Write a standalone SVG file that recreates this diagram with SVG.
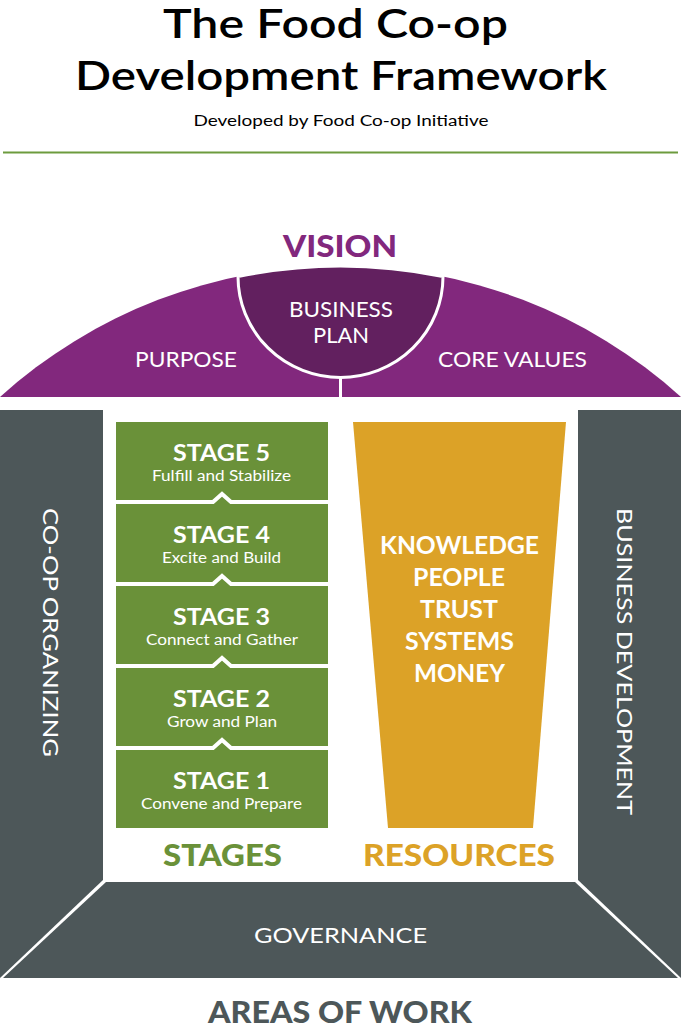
<svg xmlns="http://www.w3.org/2000/svg" width="681" height="1030" viewBox="0 0 681 1030">
<style>
text{font-family:Lato,"Open Sans","Liberation Sans",sans-serif;text-anchor:middle}
.t{fill:#000;font-size:40px;font-weight:600}
.sub{fill:#000;font-size:15.5px}
.w{fill:#fff}
.lbl{font-size:20.5px}
.st{font-size:22px;font-weight:700;fill:#fff}
.ss{font-size:14.5px;fill:#fff}
.res{font-size:24px;font-weight:700;fill:#fff}
.head{font-size:31px;font-weight:900}
.gray{fill:#4d5759}
</style>
<rect width="681" height="1030" fill="#fff"/>
<g id="title">
<text class="t" x="335.5" y="38" textLength="345" lengthAdjust="spacingAndGlyphs">The Food Co-op</text>
<text class="t" x="341" y="90" textLength="532" lengthAdjust="spacingAndGlyphs">Development Framework</text>
<text class="sub" x="341" y="126" textLength="295" lengthAdjust="spacingAndGlyphs">Developed by Food Co-op Initiative</text>
<line x1="3" y1="152.5" x2="678" y2="152.5" stroke="#6d9b3e" stroke-width="2"/>
</g>
<g id="vision">
<text class="head" x="340" y="257" fill="#82287d" textLength="114" lengthAdjust="spacingAndGlyphs">VISION</text>
<path d="M0,397 A508,508 0 0 1 681,397 Z" fill="#82287d"/>
<text class="w lbl" x="186" y="367" textLength="102" lengthAdjust="spacingAndGlyphs">PURPOSE</text>
<text class="w lbl" x="512.5" y="367" textLength="149" lengthAdjust="spacingAndGlyphs">CORE VALUES</text>
</g>
<g id="business-plan">
<path d="M238,276.5 A508,508 0 0 1 443,276.5 A102.5,101 0 0 1 238,276.5 Z" fill="#62205f" stroke="#fff" stroke-width="3"/>
<line x1="340.5" y1="378" x2="340.5" y2="398" stroke="#fff" stroke-width="3"/>
<text class="w lbl" x="341" y="317" textLength="104" lengthAdjust="spacingAndGlyphs">BUSINESS</text>
<text class="w lbl" x="341" y="343" textLength="56" lengthAdjust="spacingAndGlyphs">PLAN</text>
</g>
<g id="co-op-organizing">
<polygon class="gray" points="0,410 103,410 103,880 0,978"/>
<text class="w" font-size="22" transform="translate(43,632.5) rotate(90)" textLength="249" lengthAdjust="spacingAndGlyphs">CO-OP ORGANIZING</text>
</g>
<g id="business-development">
<polygon class="gray" points="578,410 681,410 681,978 578,880"/>
<text class="w" font-size="22" transform="translate(617,661.5) rotate(90)" textLength="307" lengthAdjust="spacingAndGlyphs">BUSINESS DEVELOPMENT</text>
</g>
<g id="governance">
<polygon class="gray" points="106,882 575,882 678,978 3,978"/>
<text class="w lbl" x="340.5" y="943" textLength="173" lengthAdjust="spacingAndGlyphs">GOVERNANCE</text>
</g>
<g id="stages">
<rect x="116" y="422" width="212" height="406" fill="#6a9139"/>
<g fill="none" stroke="#fff" stroke-width="4">
<polyline points="116,502 213,502 222,494 231,502 328,502"/>
<polyline points="116,584 213,584 222,576 231,584 328,584"/>
<polyline points="116,666 213,666 222,658 231,666 328,666"/>
<polyline points="116,748 213,748 222,740 231,748 328,748"/>
</g>
<text class="st" x="221.5" y="461" textLength="97" lengthAdjust="spacingAndGlyphs">STAGE 5</text>
<text class="ss" x="221.5" y="481" textLength="139" lengthAdjust="spacingAndGlyphs">Fulfill and Stabilize</text>
<text class="st" x="221.5" y="543" textLength="97" lengthAdjust="spacingAndGlyphs">STAGE 4</text>
<text class="ss" x="221.5" y="563" textLength="119" lengthAdjust="spacingAndGlyphs">Excite and Build</text>
<text class="st" x="221.5" y="625" textLength="97" lengthAdjust="spacingAndGlyphs">STAGE 3</text>
<text class="ss" x="222" y="645" textLength="152" lengthAdjust="spacingAndGlyphs">Connect and Gather</text>
<text class="st" x="221.5" y="707" textLength="97" lengthAdjust="spacingAndGlyphs">STAGE 2</text>
<text class="ss" x="222" y="727" textLength="110" lengthAdjust="spacingAndGlyphs">Grow and Plan</text>
<text class="st" x="221.5" y="789" textLength="97" lengthAdjust="spacingAndGlyphs">STAGE 1</text>
<text class="ss" x="221.5" y="809" textLength="161" lengthAdjust="spacingAndGlyphs">Convene and Prepare</text>
<text class="head" x="222.5" y="866" fill="#6a9139" textLength="119" lengthAdjust="spacingAndGlyphs">STAGES</text>
</g>
<g id="resources">
<polygon points="353,422 566,422 533,828 388,828" fill="#dca227"/>
<text class="res" x="459.5" y="554" textLength="159" lengthAdjust="spacingAndGlyphs">KNOWLEDGE</text>
<text class="res" x="459" y="586" textLength="92" lengthAdjust="spacingAndGlyphs">PEOPLE</text>
<text class="res" x="459" y="618" textLength="78" lengthAdjust="spacingAndGlyphs">TRUST</text>
<text class="res" x="459.5" y="650" textLength="109" lengthAdjust="spacingAndGlyphs">SYSTEMS</text>
<text class="res" x="459.5" y="682" textLength="91" lengthAdjust="spacingAndGlyphs">MONEY</text>
<text class="head" x="459" y="866" fill="#dca227" textLength="192" lengthAdjust="spacingAndGlyphs">RESOURCES</text>
</g>
<g id="areas-of-work">
<text class="head gray" x="340" y="1023" textLength="264" lengthAdjust="spacingAndGlyphs">AREAS OF WORK</text>
</g>
</svg>
